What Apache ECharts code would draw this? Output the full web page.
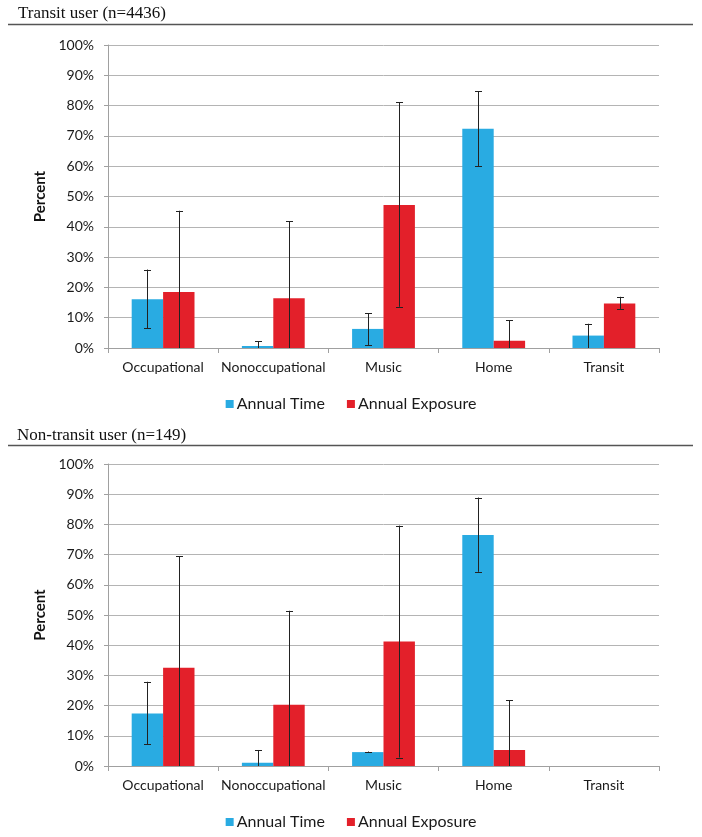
<!DOCTYPE html>
<html><head><meta charset="utf-8">
<script src="https://cdn.jsdelivr.net/npm/echarts@6/dist/echarts.min.js"></script>
<style>html,body{margin:0;padding:0;background:#fff}#c{width:702px;height:837px}</style>
</head><body><div id="c"></div>
<script>
const categories = ['Occupational','Nonoccupational','Music','Home','Transit'];
const yTicks = [0,10,20,30,40,50,60,70,80,90,100];
const seriesNames = ['Annual Time','Annual Exposure'];
const panelTitles = ['Transit user (n=4436)','Non-transit user (n=149)'];

// Transit users
const transitTime     = [16.1, 0.7, 6.3, 72.4, 4.1];
const transitTimeLow  = [6.5, 0, 1.0, 60.0, 0];
const transitTimeHigh = [25.9, 2.2, 11.5, 84.8, 8.0];
const transitExp      = [18.5, 16.4, 47.2, 2.4, 14.7];
const transitExpLow   = [0, 0, 13.6, 0, 12.9];
const transitExpHigh  = [45.3, 41.8, 81.1, 9.1, 16.9];

// Non-transit users
const nonTime     = [17.4, 1.1, 4.6, 76.5, null];
const nonTimeLow  = [7.2, 0, 4.6, 64.3, null];
const nonTimeHigh = [27.9, 5.3, 4.8, 88.9, null];
const nonExp      = [32.5, 20.3, 41.2, 5.3, null];
const nonExpLow   = [0, 0, 2.8, 0, null];
const nonExpHigh  = [69.4, 51.4, 79.6, 21.8, null];

const BLUE = '#29ABE2', RED = '#E3202A';
const GAP = 0.43;
const FONT = 'Lato';

function errData(low, high, side){
  const out = [];
  for (let i=0;i<categories.length;i++){
    if (low[i]==null || high[i]==null) continue;
    out.push([i, low[i], high[i], side]);
  }
  return out;
}
function renderErr(params, api){
  const ci = api.value(0), lo = api.value(1), hi = api.value(2), side = api.value(3);
  const band = api.size([1,0])[0];
  const bw = band*(1-GAP)/2;
  const c = api.coord([ci, 0]);
  const x = Math.round(c[0] + side*bw/2) + 0.5;
  const yLo = api.coord([ci, lo])[1];
  const yHi = api.coord([ci, hi])[1];
  const st = {stroke:'#222', lineWidth:1};
  const ch = [{type:'line', shape:{x1:x,y1:yLo,x2:x,y2:yHi}, style:st}];
  const cap = 3.5;
  ch.push({type:'line', shape:{x1:x-cap,y1:Math.round(yHi)+0.5,x2:x+cap,y2:Math.round(yHi)+0.5}, style:st});
  if (lo > 0) ch.push({type:'line', shape:{x1:x-cap,y1:Math.round(yLo)+0.5,x2:x+cap,y2:Math.round(yLo)+0.5}, style:st});
  return {type:'group', children:ch};
}

const grids = [
  {left:108, top:45, width:551, height:303},
  {left:108, top:464, width:551, height:302}
];
const panels = [
  {time:transitTime, tLo:transitTimeLow, tHi:transitTimeHigh, exp:transitExp, eLo:transitExpLow, eHi:transitExpHigh},
  {time:nonTime, tLo:nonTimeLow, tHi:nonTimeHigh, exp:nonExp, eLo:nonExpLow, eHi:nonExpHigh}
];

const xAxis = [], yAxis = [], series = [];
panels.forEach((p, k) => {
  xAxis.push({
    type:'category', gridIndex:k, data:categories,
    axisLine:{lineStyle:{color:'#a0a0a0', width:1}},
    axisTick:{show:true, length:5, lineStyle:{color:'#a0a0a0'}},
    axisLabel:{color:'#1a1a1a', fontFamily:FONT, fontSize:14, margin:12, interval:0}
  });
  yAxis.push({
    type:'value', gridIndex:k, min:0, max:100, interval:10,
    name:'Percent', nameLocation:'middle', nameGap:56,
    nameTextStyle:{fontFamily:FONT, fontWeight:'bold', fontSize:15, color:'#111'},
    axisLine:{show:true, lineStyle:{color:'#a0a0a0'}},
    axisTick:{show:true, length:4, lineStyle:{color:'#a0a0a0'}},
    splitLine:{show:true, lineStyle:{color:'#b4b4b4', width:1}},
    axisLabel:{color:'#1a1a1a', fontFamily:FONT, fontSize:14, margin:14,
      formatter: v => yTicks.indexOf(v) >= 0 ? v + '%' : ''}
  });
  series.push({
    name:seriesNames[0], type:'bar', xAxisIndex:k, yAxisIndex:k,
    data:p.time, itemStyle:{color:BLUE}, barGap:'0%', barCategoryGap:(GAP*100)+'%'
  });
  series.push({
    name:seriesNames[1], type:'bar', xAxisIndex:k, yAxisIndex:k,
    data:p.exp, itemStyle:{color:RED}, barGap:'0%', barCategoryGap:(GAP*100)+'%'
  });
  series.push({
    name:'errT'+k, type:'custom', xAxisIndex:k, yAxisIndex:k,
    data:errData(p.tLo, p.tHi, -1), renderItem:renderErr, z:5, silent:true
  });
  series.push({
    name:'errE'+k, type:'custom', xAxisIndex:k, yAxisIndex:k,
    data:errData(p.eLo, p.eHi, 1), renderItem:renderErr, z:5, silent:true
  });
});

const legendCommon = {
  data:seriesNames, left:'center', icon:'rect', itemWidth:8, itemHeight:8, itemGap:22,
  textStyle:{fontFamily:FONT, fontSize:16, color:'#1a1a1a', padding:[0,0,0,-2]}
};

const chart = echarts.init(document.getElementById('c'), null, {renderer:'canvas'});
chart.setOption({
  backgroundColor:'#fff',
  animation:false,
  grid:grids,
  xAxis, yAxis, series,
  legend:[Object.assign({top:391}, legendCommon), Object.assign({top:809}, legendCommon)],
  graphic:[
    {type:'text', left:18, top:5, style:{text:panelTitles[0], font:'17px "Liberation Serif"', fill:'#111'}},
    {type:'line', shape:{x1:8,y1:24.5,x2:693,y2:24.5}, style:{stroke:'#555', lineWidth:1.5}},
    {type:'text', left:17, top:427, style:{text:panelTitles[1], font:'17px "Liberation Serif"', fill:'#111'}},
    {type:'line', shape:{x1:8,y1:445.5,x2:693,y2:445.5}, style:{stroke:'#555', lineWidth:1.5}}
  ]
});
</script></body></html>
